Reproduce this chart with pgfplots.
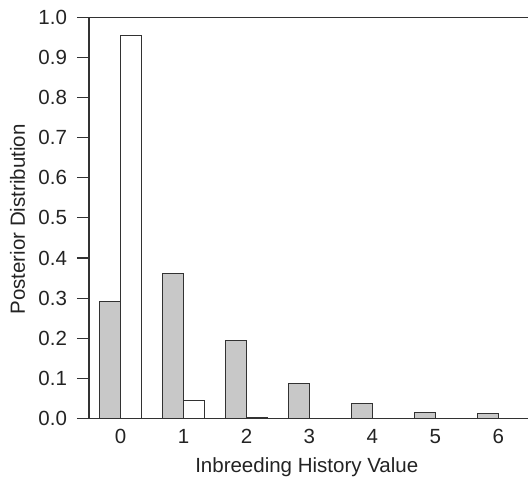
\documentclass[border=0pt]{standalone}
\usepackage{pgfplots}
\pgfplotsset{compat=1.18}
\usepackage{fontspec}
\setmainfont{Liberation Sans}
\definecolor{barfill}{RGB}{200,200,200}
\definecolor{linec}{RGB}{50,50,50}
\definecolor{textc}{RGB}{35,35,35}
\newcommand{\lblfont}{\fontsize{20.5bp}{24bp}\selectfont}
\begin{document}
\lblfont
\begin{tikzpicture}
\begin{axis}[
  scale only axis,
  width=439bp, height=400.8bp,
  xmin=-0.5, xmax=6.47,
  ymin=0, ymax=1,
  axis x line=box, axis y line=left,
  axis line style={linec, line width=1.1pt, -},
  xtick={0,1,2,3,4,5,6},
  xtick style={draw=none},
  xticklabel style={anchor=north, yshift=8bp},
  ytick={0,0.1,...,1.0},
  ytick pos=left,
  tick align=outside,
  major tick length=12bp,
  ytick style={linec, line width=1.1pt},
  yticklabel style={/pgf/number format/fixed, /pgf/number format/precision=1, /pgf/number format/fixed zerofill, anchor=east, xshift=-3bp},
  /pgf/number format/assume math mode=true,
  tick label style={font=\lblfont, text=textc},
  xlabel={Inbreeding History Value},
  ylabel={Posterior Distribution},
  every axis x label/.style={at={(axis description cs:0.496,0)}, anchor=base, yshift=-54.4bp, font=\lblfont, text=textc},
  every axis y label/.style={at={(axis description cs:0,0.496)}, xshift=-64bp, rotate=90, anchor=base, font=\lblfont, text=textc},
  ybar, bar width=0.338,
  clip=false,
]
\addplot[ybar, bar shift=-0.169, fill=barfill, draw=linec, line width=0.9pt]
  coordinates {(0,0.291) (1,0.3625) (2,0.195) (3,0.087) (4,0.036) (5,0.014) (6,0.011)};
\addplot[ybar, bar shift=0.169, fill=white, draw=linec, line width=0.9pt]
  coordinates {(0,0.955) (1,0.045) (2,0.003)};
\end{axis}
\pgfresetboundingbox
\useasboundingbox ([shift={(-89bp,-58.7bp)}]current axis.south west) rectangle ([shift={(0bp,17.5bp)}]current axis.north east);
\end{tikzpicture}
\end{document}
